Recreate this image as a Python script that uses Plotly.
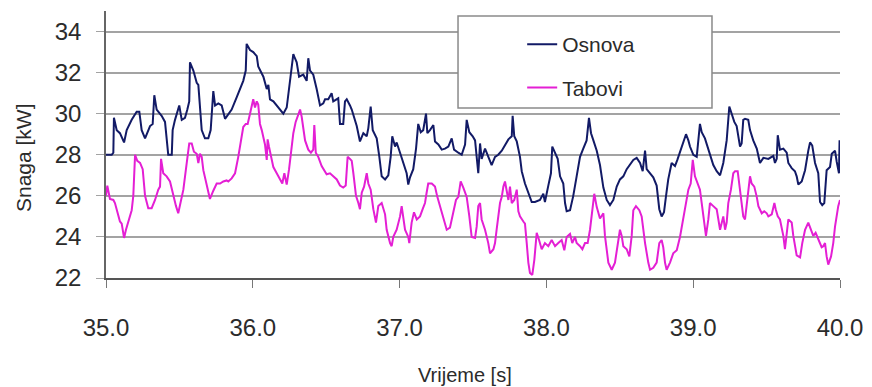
import plotly.graph_objects as go

# Osnova series (time [s], power [kW])
osnova_t = [35.000, 35.039, 35.050, 35.054, 35.073, 35.095, 35.123, 35.141, 35.175, 35.209,
            35.227, 35.243, 35.266, 35.300, 35.318, 35.329, 35.345, 35.379, 35.402, 35.424,
            35.448, 35.454, 35.470, 35.499, 35.516, 35.538, 35.554, 35.567, 35.572, 35.595,
            35.618, 35.629, 35.652, 35.674, 35.697, 35.713, 35.731, 35.743, 35.765, 35.788,
            35.811, 35.856, 35.890, 35.913, 35.935, 35.952, 35.958, 35.981, 36.003, 36.027,
            36.037, 36.072, 36.095, 36.106, 36.117, 36.140, 36.174, 36.208, 36.231, 36.253,
            36.265, 36.276, 36.287, 36.299, 36.315, 36.344, 36.367, 36.378, 36.390, 36.412,
            36.435, 36.458, 36.480, 36.492, 36.514, 36.537, 36.548, 36.582, 36.594, 36.616,
            36.628, 36.640, 36.662, 36.674, 36.708, 36.730, 36.753, 36.776, 36.787, 36.803,
            36.817, 36.844, 36.862, 36.878, 36.901, 36.923, 36.939, 36.950, 36.969, 36.980,
            37.003, 37.025, 37.048, 37.059, 37.071, 37.093, 37.112, 37.127, 37.144, 37.161,
            37.180, 37.189, 37.207, 37.230, 37.241, 37.264, 37.287, 37.309, 37.332, 37.355,
            37.371, 37.400, 37.423, 37.446, 37.457, 37.475, 37.498, 37.514, 37.520, 37.536,
            37.548, 37.559, 37.582, 37.604, 37.627, 37.650, 37.672, 37.696, 37.718, 37.741,
            37.764, 37.770, 37.781, 37.798, 37.820, 37.832, 37.854, 37.877, 37.900, 37.922,
            37.956, 37.979, 37.990, 38.013, 38.031, 38.040, 38.059, 38.077, 38.093, 38.115,
            38.127, 38.138, 38.161, 38.183, 38.206, 38.229, 38.251, 38.274, 38.290, 38.304,
            38.320, 38.343, 38.365, 38.388, 38.411, 38.433, 38.456, 38.479, 38.501, 38.524,
            38.547, 38.569, 38.592, 38.615, 38.638, 38.656, 38.672, 38.683, 38.706, 38.728,
            38.751, 38.769, 38.785, 38.801, 38.815, 38.830, 38.853, 38.876, 38.892, 38.910,
            38.933, 38.951, 38.967, 38.978, 39.001, 39.024, 39.046, 39.058, 39.080, 39.103,
            39.137, 39.160, 39.183, 39.205, 39.228, 39.246, 39.262, 39.280, 39.296, 39.307,
            39.319, 39.330, 39.341, 39.353, 39.375, 39.387, 39.409, 39.433, 39.444, 39.455,
            39.478, 39.512, 39.546, 39.557, 39.569, 39.576, 39.591, 39.614, 39.637, 39.648,
            39.671, 39.693, 39.705, 39.716, 39.739, 39.762, 39.784, 39.796, 39.811, 39.830,
            39.852, 39.864, 39.879, 39.893, 39.909, 39.932, 39.944, 39.966, 39.978, 39.993,
            39.997, 40.000]
osnova_p = [28.0, 28.0, 28.1, 29.8, 29.2, 29.05, 28.6, 29.2, 29.7, 30.1,
            30.1, 29.2, 28.8, 29.4, 29.5, 30.9, 30.2, 29.9, 29.6, 28.0,
            28.0, 29.2, 29.7, 30.4, 29.7, 29.8, 30.2, 30.6, 32.5, 32.1,
            31.5, 31.4, 29.2, 28.8, 28.8, 29.2, 31.1, 30.4, 30.5, 30.4,
            29.75, 30.2, 30.8, 31.2, 31.6, 32.1, 33.4, 33.1, 33.0, 32.8,
            32.3, 31.8, 31.2, 31.4, 30.7, 30.6, 30.3, 30.0, 30.3, 31.5,
            32.3, 32.9, 32.7, 32.5, 31.8, 31.9, 31.6, 32.7, 32.1, 31.9,
            31.2, 30.4, 30.5, 30.7, 30.7, 31.0, 30.6, 30.75, 29.5, 29.5,
            30.6, 30.7, 30.4, 30.2, 29.4, 28.65, 29.05, 28.9, 29.3, 30.35,
            29.2, 28.8, 27.9, 26.95, 26.8, 27.0, 27.9, 28.9, 28.4, 28.6,
            28.1, 27.6, 27.1, 26.55, 26.9, 27.3, 28.3, 29.5, 29.1, 29.2,
            30.0, 29.05, 29.2, 29.45, 28.65, 28.5, 28.25, 28.3, 28.4, 28.8,
            28.25, 28.1, 28.0, 28.5, 29.7, 29.1, 28.9, 28.7, 28.3, 27.1,
            28.55, 27.8, 28.3, 27.9, 27.5, 27.9, 28.0, 28.2, 28.5, 28.75,
            28.9, 29.9, 28.9, 28.65, 27.9, 27.2, 26.6, 26.1, 25.7, 25.7,
            25.8, 26.1, 25.7, 26.5, 27.1, 28.4, 28.1, 27.8, 26.95, 26.6,
            25.65, 25.25, 25.3, 26.0, 26.95, 27.9, 28.3, 28.7, 29.8, 29.05,
            28.7, 28.2, 27.5, 26.4, 25.8, 25.55, 25.8, 26.45, 26.8, 26.95,
            27.3, 27.5, 27.75, 27.85, 27.6, 27.2, 28.2, 27.3, 27.1, 26.9,
            26.5, 25.35, 25.0, 25.2, 26.0, 26.8, 27.6, 27.45, 27.75, 28.1,
            28.6, 29.0, 28.7, 28.4, 28.0, 27.9, 29.5, 29.1, 28.8, 28.3,
            27.5, 27.2, 27.0, 27.6, 28.7, 30.35, 30.0, 29.6, 29.4, 28.9,
            28.4, 28.55, 29.7, 29.75, 29.7, 29.2, 28.7, 28.3, 28.0, 27.6,
            27.85, 27.8, 27.95, 27.6, 27.8, 28.95, 28.25, 28.3, 28.1, 27.6,
            27.35, 27.2, 26.95, 26.55, 26.7, 27.25, 28.2, 28.6, 28.45, 27.6,
            27.1, 25.7, 25.55, 25.65, 27.25, 27.4, 28.05, 28.2, 27.65, 27.1,
            28.7, 27.9]

# Tabovi series (time [s], power [kW])
tabovi_t = [35.000, 35.009, 35.027, 35.050, 35.061, 35.084, 35.095, 35.107, 35.123, 35.136,
            35.152, 35.175, 35.186, 35.198, 35.213, 35.232, 35.250, 35.266, 35.288, 35.311,
            35.334, 35.356, 35.368, 35.375, 35.390, 35.413, 35.436, 35.458, 35.477, 35.492,
            35.509, 35.527, 35.550, 35.567, 35.584, 35.599, 35.618, 35.629, 35.640, 35.652,
            35.663, 35.686, 35.708, 35.731, 35.754, 35.777, 35.799, 35.822, 35.833, 35.856,
            35.879, 35.901, 35.920, 35.935, 35.952, 35.965, 35.981, 35.993, 36.003, 36.015,
            36.027, 36.037, 36.049, 36.061, 36.072, 36.083, 36.095, 36.101, 36.110, 36.124,
            36.140, 36.163, 36.185, 36.201, 36.215, 36.231, 36.247, 36.265, 36.276, 36.292,
            36.306, 36.322, 36.333, 36.344, 36.356, 36.378, 36.396, 36.412, 36.419, 36.429,
            36.446, 36.469, 36.487, 36.503, 36.526, 36.548, 36.572, 36.594, 36.616, 36.633,
            36.646, 36.662, 36.674, 36.685, 36.703, 36.719, 36.730, 36.742, 36.758, 36.776,
            36.787, 36.803, 36.821, 36.839, 36.855, 36.878, 36.889, 36.901, 36.912, 36.935,
            36.946, 36.957, 36.980, 37.003, 37.014, 37.025, 37.037, 37.059, 37.066, 37.082,
            37.098, 37.117, 37.139, 37.157, 37.173, 37.184, 37.195, 37.219, 37.241, 37.257,
            37.275, 37.298, 37.321, 37.343, 37.366, 37.384, 37.400, 37.416, 37.434, 37.457,
            37.475, 37.491, 37.514, 37.525, 37.536, 37.548, 37.559, 37.582, 37.604, 37.616,
            37.639, 37.650, 37.661, 37.672, 37.684, 37.696, 37.707, 37.718, 37.730, 37.741,
            37.752, 37.764, 37.781, 37.798, 37.809, 37.820, 37.843, 37.854, 37.866, 37.877,
            37.888, 37.904, 37.918, 37.934, 37.950, 37.968, 37.990, 38.013, 38.036, 38.059,
            38.081, 38.104, 38.122, 38.138, 38.161, 38.176, 38.195, 38.206, 38.229, 38.245,
            38.263, 38.281, 38.297, 38.313, 38.326, 38.343, 38.365, 38.388, 38.399, 38.422,
            38.445, 38.467, 38.490, 38.501, 38.513, 38.524, 38.547, 38.565, 38.581, 38.592,
            38.610, 38.633, 38.649, 38.672, 38.694, 38.706, 38.728, 38.751, 38.769, 38.785,
            38.796, 38.808, 38.819, 38.842, 38.864, 38.888, 38.910, 38.933, 38.951, 38.967,
            38.983, 38.997, 39.012, 39.028, 39.046, 39.058, 39.069, 39.087, 39.103, 39.114,
            39.137, 39.160, 39.183, 39.205, 39.217, 39.228, 39.239, 39.257, 39.273, 39.285,
            39.303, 39.319, 39.330, 39.341, 39.353, 39.364, 39.375, 39.387, 39.398, 39.416,
            39.433, 39.444, 39.467, 39.484, 39.501, 39.512, 39.535, 39.553, 39.562, 39.576,
            39.591, 39.614, 39.625, 39.637, 39.648, 39.671, 39.682, 39.705, 39.728, 39.743,
            39.762, 39.784, 39.802, 39.818, 39.834, 39.852, 39.875, 39.886, 39.898, 39.909,
            39.920, 39.939, 39.954, 39.966, 39.978, 39.988, 40.000]
tabovi_p = [26.0, 26.5, 25.85, 25.8, 25.65, 25.0, 24.75, 24.65, 23.95, 24.35,
            24.7, 25.3, 26.0, 28.0, 27.7, 27.6, 27.3, 26.0, 25.4, 25.4,
            25.8, 26.3, 26.45, 27.8, 27.1, 26.95, 26.7, 26.0, 25.5, 25.15,
            25.65, 26.3, 27.6, 28.55, 28.55, 28.15, 28.05, 27.6, 28.05, 27.9,
            27.25, 26.45, 25.85, 26.25, 26.6, 26.6, 26.7, 26.75, 26.7, 26.85,
            27.1, 27.9, 28.7, 29.35, 29.5, 29.5, 30.0, 30.35, 30.7, 30.3,
            30.6, 30.45, 29.5, 29.2, 28.9, 28.5, 27.75, 28.75, 28.4, 27.9,
            27.4, 27.1, 26.85, 26.6, 27.1, 26.55, 27.3, 28.25, 29.05, 29.6,
            29.85, 30.2, 29.85, 29.2, 28.7, 28.25, 28.1, 28.25, 29.45, 28.1,
            27.9, 27.45, 27.2, 27.05, 27.1, 26.95, 26.8, 26.5, 26.4, 26.5,
            27.9, 27.8, 27.7, 27.1, 26.0, 25.65, 25.35, 26.15, 26.45, 27.1,
            26.6, 26.3, 25.35, 24.7, 25.5, 25.65, 25.35, 25.1, 24.35, 23.7,
            23.55, 24.0, 24.35, 25.0, 25.5, 24.85, 24.35, 24.0, 23.7, 24.7,
            25.2, 24.85, 25.0, 25.35, 25.65, 26.15, 26.6, 26.6, 26.45, 25.95,
            25.5, 24.85, 24.35, 24.45, 25.25, 25.8, 25.95, 26.7, 26.4, 25.95,
            25.0, 24.0, 23.95, 24.5, 25.5, 25.65, 24.85, 24.35, 23.7, 23.2,
            23.4, 23.7, 24.35, 25.15, 25.65, 25.95, 26.45, 26.7, 26.3, 25.8,
            26.45, 25.65, 25.8, 26.3, 25.25, 25.0, 24.75, 24.65, 23.7, 22.75,
            22.25, 22.15, 22.9, 24.2, 23.85, 23.4, 23.7, 23.55, 23.85, 23.55,
            23.7, 23.85, 23.35, 24.0, 24.15, 23.7, 24.0, 23.7, 23.55, 23.4,
            23.7, 23.7, 24.35, 25.3, 26.1, 25.45, 24.9, 25.15, 24.05, 22.75,
            22.4, 22.75, 23.7, 24.35, 24.05, 23.55, 23.4, 23.05, 24.05, 25.3,
            25.5, 25.3, 25.0, 23.7, 22.75, 22.4, 22.5, 22.75, 23.7, 23.85,
            23.5, 22.75, 22.4, 22.75, 23.2, 23.35, 24.0, 24.95, 25.8, 26.3,
            26.6, 27.75, 26.95, 26.6, 26.3, 25.65, 25.0, 24.05, 24.85, 25.65,
            25.5, 25.35, 24.35, 25.0, 24.35, 24.7, 25.65, 26.3, 27.1, 27.2,
            27.2, 26.3, 25.65, 25.0, 24.85, 25.65, 26.45, 26.95, 26.6, 26.45,
            25.95, 25.5, 25.15, 25.25, 25.15, 25.0, 25.1, 25.65, 25.35, 25.0,
            24.85, 24.05, 23.4, 24.35, 24.85, 24.7, 24.05, 23.1, 23.0, 23.7,
            24.35, 24.7, 24.35, 24.05, 24.2, 23.9, 23.5, 23.55, 23.7, 23.05,
            22.65, 23.05, 23.7, 24.5, 25.15, 25.5, 25.8]

x_ticks = [35, 36, 37, 38, 39, 40]
y_ticks = [22, 24, 26, 28, 30, 32, 34]
series_names = ["Osnova", "Tabovi"]

FONT = "Liberation Sans, Arial, sans-serif"
TXT = "#2b2b2b"

fig = go.Figure()
fig.add_trace(go.Scatter(x=osnova_t, y=osnova_p, mode="lines", name=series_names[0],
                         legendgroup="a", line=dict(color="#121a66", width=2)))
fig.add_trace(go.Scatter(x=tabovi_t, y=tabovi_p, mode="lines", name=series_names[1],
                         legendgroup="b", line=dict(color="#e41fd4", width=2)))

fig.update_layout(
    width=872, height=387,
    margin=dict(l=98, r=40, t=3, b=117),
    paper_bgcolor="white", plot_bgcolor="white",
    font=dict(family=FONT, color=TXT),
    showlegend=True,
    legend=dict(x=0.567, y=0.951, xanchor="left", yanchor="top",
                bgcolor="rgba(0,0,0,0)", borderwidth=0,
                font=dict(size=21, color=TXT), tracegroupgap=13),
    xaxis=dict(range=[35, 40], tickvals=x_ticks, tickformat=".1f",
               showgrid=False, zeroline=False,
               showline=True, linecolor="#555555", linewidth=1.5,
               ticks="outside", ticklen=8, tickcolor="#777777",
               tickfont=dict(size=24, color=TXT), ticklabelstandoff=19),
    yaxis=dict(range=[22, 35], tickvals=y_ticks,
               showgrid=True, gridcolor="#a3a3a3", gridwidth=1.6, zeroline=False,
               showline=True, linecolor="#666666", linewidth=1.5,
               ticks="outside", ticklen=8, tickcolor="#a3a3a3",
               tickfont=dict(size=24, color=TXT), ticklabelstandoff=10),
    shapes=[dict(type="rect", xref="paper", yref="paper",
                 x0=0.4796, x1=0.8256, y0=0.6367, y1=0.9813,
                 fillcolor="white", line=dict(color="#8a8a8a", width=1.5),
                 layer="above")],
    annotations=[
        dict(text="Snaga [kW]", xref="paper", yref="paper", x=-0.1131, y=0.453,
             textangle=-90, showarrow=False, font=dict(size=21, color=TXT),
             xanchor="center", yanchor="middle"),
        dict(text="Vrijeme [s]", xref="paper", yref="paper", x=0.489, y=-0.363,
             showarrow=False, font=dict(size=20, color=TXT),
             xanchor="center", yanchor="middle"),
    ],
)

fig.write_html("out.html")
